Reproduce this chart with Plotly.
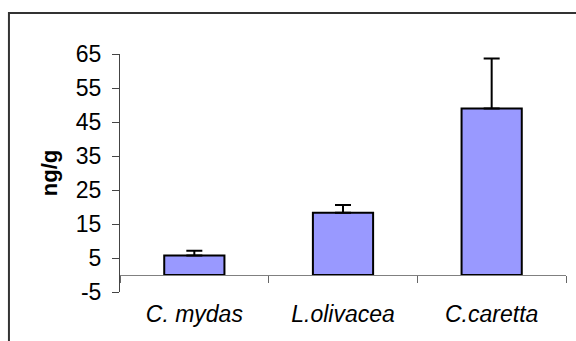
import plotly.graph_objects as go

# Mean concentration per species with upper error (ng/g)
species = ["C. mydas", "L.olivacea", "C.caretta"]
mean_ngg = [5.7, 18.3, 49.0]
err_upper = [1.4, 2.3, 14.7]
y_ticks = [-5, 5, 15, 25, 35, 45, 55, 65]

FONT = "Liberation Sans, Arial, sans-serif"
idx = list(range(len(species)))
bounds = [i - 0.5 for i in range(len(species) + 1)]
zero_frac = (0 - y_ticks[0]) / (y_ticks[-1] - y_ticks[0])

fig = go.Figure()
fig.add_trace(go.Bar(
    x=idx, y=mean_ngg, width=0.405,
    marker=dict(color="#9999FF", line=dict(color="black", width=2)),
    error_y=dict(type="data", symmetric=False, array=err_upper,
                 arrayminus=[0] * len(err_upper),
                 color="black", thickness=2, width=8),
    showlegend=False,
))
# helper trace on the category axis that sits at y = 0
fig.add_trace(go.Scatter(x=[bounds[0], bounds[-1]], y=[0, 0],
                         xaxis="x2", yaxis="y2", mode="lines",
                         line=dict(color="rgba(0,0,0,0)", width=0),
                         showlegend=False, hoverinfo="skip"))

fig.update_layout(
    width=576, height=341,
    margin=dict(l=120, r=10, t=54, b=49),
    paper_bgcolor="white", plot_bgcolor="rgba(0,0,0,0)",
    font=dict(family=FONT, color="black"),
    xaxis=dict(range=[bounds[0], bounds[-1]], tickvals=idx, ticktext=species,
               tickfont=dict(size=23, style="italic"), ticks="",
               showline=False, showgrid=False, zeroline=False,
               ticklabelstandoff=6),
    xaxis2=dict(range=[bounds[0], bounds[-1]], overlaying="x", anchor="y2",
                side="bottom", tickvals=bounds, showticklabels=False,
                ticks="outside", ticklen=7, tickcolor="#666", tickwidth=1,
                showline=True, linecolor="#808080", linewidth=1,
                showgrid=False, zeroline=False),
    yaxis2=dict(domain=[zero_frac, 1], range=[0, 1], visible=False,
                anchor="x2"),
    yaxis=dict(range=[y_ticks[0], y_ticks[-1]], tickvals=y_ticks,
               ticktext=[str(v) for v in y_ticks],
               tickfont=dict(size=23), ticks="outside", ticklen=7,
               tickcolor="#444", tickwidth=1,
               showline=True, linecolor="#444", linewidth=1,
               showgrid=False, zeroline=False, ticklabelstandoff=6,
               title=dict(text="<b>ng/g</b>", font=dict(size=22), standoff=12)),
)

# outer chart frame
fig.add_shape(type="rect", xref="paper", yref="paper",
              x0=-0.249, x1=1.2, y0=-0.3, y1=1.172,
              line=dict(color="#333", width=2), fillcolor="rgba(0,0,0,0)",
              layer="below")

fig.write_html("out.html")
